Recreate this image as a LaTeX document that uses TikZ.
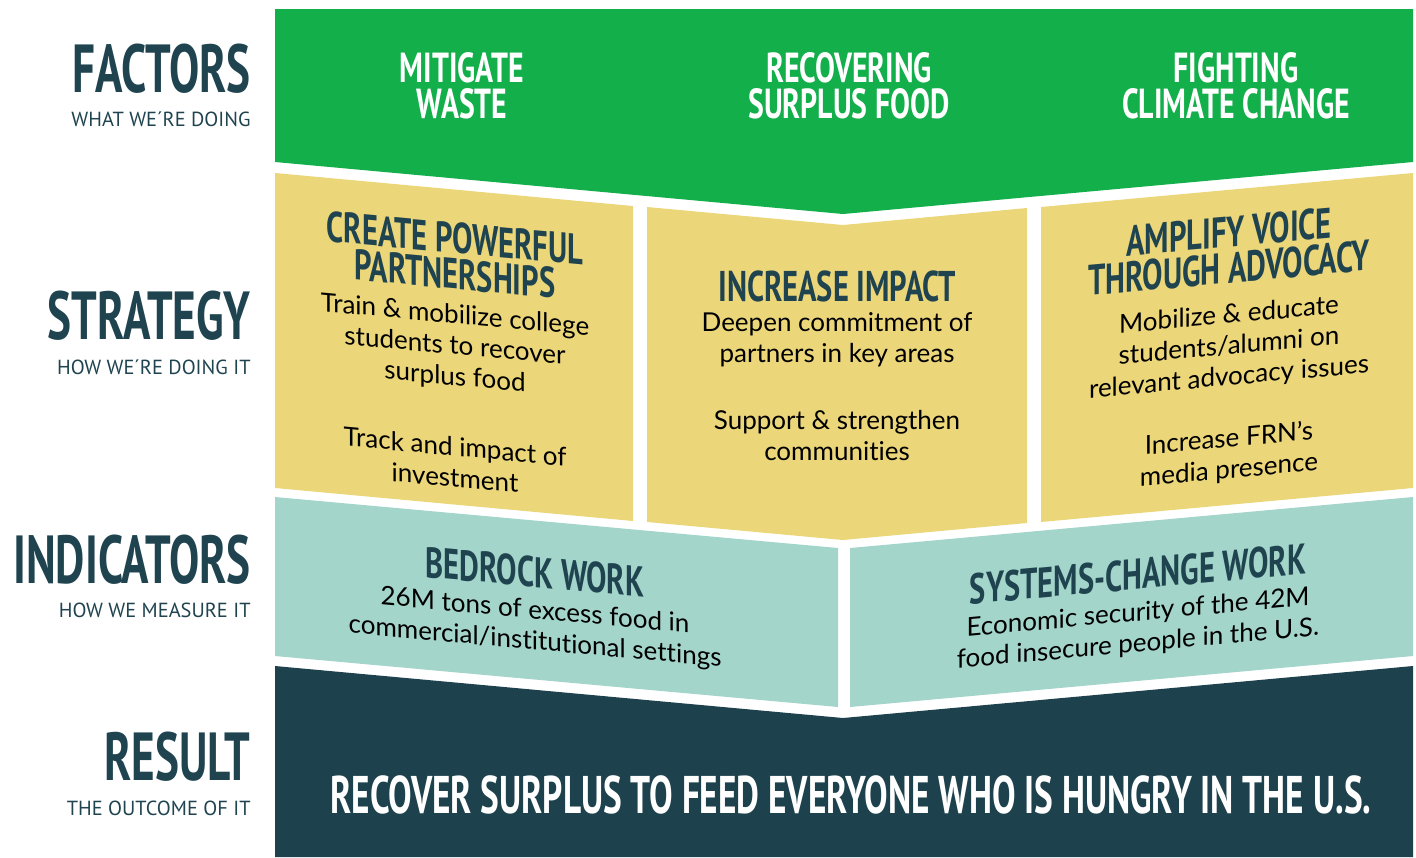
\documentclass[tikz,border=0pt]{standalone}
\usepackage{fontspec}
\setmainfont{Lato}[Ligatures=NoCommon]
\newfontfamily\dinfont[FakeStretch=0.71]{PT Sans}
\newfontfamily\dinnarrow[FakeStretch=0.665]{PT Sans}
\newfontfamily\dinsub{PT Sans}

\definecolor{frngreen}{HTML}{13AF4B}
\definecolor{frnyellow}{HTML}{ECD67A}
\definecolor{frnteal}{HTML}{A3D5CA}
\definecolor{frndark}{HTML}{1E424D}
\definecolor{frntext}{HTML}{1F4450}

\tikzset{
  rowtitle/.style={anchor=east, text=frntext, font=\dinnarrow\bfseries\fontsize{34}{34}\selectfont, inner sep=0pt},
  rowsub/.style={anchor=east, text=frntext, font=\dinsub\fontsize{10.2}{10.2}\selectfont, inner sep=0pt},
  bandtitle/.style={align=center, text=white, font=\dinfont\bfseries\fontsize{21}{18}\selectfont},
  boxtitle/.style={align=center, inner sep=0pt, text=frntext, font=\dinfont\bfseries\fontsize{21.5}{18}\selectfont},
  boxtext/.style={align=center, inner sep=0pt, text=black, font=\fontsize{13}{15.5}\selectfont},
  downslant/.style={yslant=-0.0915},
  upslant/.style={yslant=0.0915}
}

\begin{document}
\begin{tikzpicture}[x=0.5pt, y=-0.5pt]  % one unit = one pixel of the sketch
    \useasboundingbox (0,0) rectangle (1416,857);

    % factors band
    \fill[frngreen] (275,9) -- (1413,9) -- (1413,162) -- (843,214) -- (275,162) -- cycle;

    % strategy boxes
    \fill[frnyellow] (275,173) -- (633,206) -- (633,521) -- (275,488) -- cycle; % left
    \fill[frnyellow] (647,207) -- (843,225) -- (1027,208) -- (1027,523) -- (843,540) -- (647,522) -- cycle; % middle
    \fill[frnyellow] (1041,207) -- (1413,173) -- (1413,488) -- (1041,522) -- cycle; % right

    % indicator boxes
    \fill[frnteal] (275,497) -- (838,548) -- (838,707) -- (275,656) -- cycle; % left
    \fill[frnteal] (850,548) -- (1413,497) -- (1413,656) -- (850,707) -- cycle; % right

    % result band
    \fill[frndark] (275,666) -- (843,718) -- (1413,666) -- (1413,857) -- (275,857) -- cycle;

    % row labels
    \node[rowtitle] (factors) at (251,69) {FACTORS};
    \node[rowsub] (factorssub) at (251,119) {WHAT WE´RE DOING};
    \node[rowtitle] (strategy) at (251,316) {STRATEGY};
    \node[rowsub] (strategysub) at (251,367) {HOW WE´RE DOING IT};
    \node[rowtitle] (indicators) at (251,560) {INDICATORS};
    \node[rowsub] (indicatorssub) at (251,610) {HOW WE MEASURE IT};
    \node[rowtitle] (result) at (251,757) {RESULT};
    \node[rowsub] (resultsub) at (251,808) {THE OUTCOME OF IT};

    % factors
    \node[bandtitle] (waste) at (462,86) {MITIGATE\\WASTE};
    \node[bandtitle] (surplus) at (849,86) {RECOVERING\\SURPLUS FOOD};
    \node[bandtitle] (climate) at (1236,86) {FIGHTING\\CLIMATE CHANGE};

    % strategy
    \node[boxtitle, downslant] (partner) at (455,256) {CREATE POWERFUL\\PARTNERSHIPS};
    \node[boxtext, downslant] (partnera) at (455,347) {Train \& mobilize college\\students to recover\\surplus food};
    \node[boxtext, downslant] (partnerb) at (455,462) {Track and impact of\\investment};
    \node[boxtitle] (impact) at (837,286) {INCREASE IMPACT};
    \node[boxtext] (impacta) at (837,340) {Deepen commitment of\\partners in key areas};
    \node[boxtext] (impactb) at (837,436) {Support \& strengthen\\communities};
    \node[boxtitle, upslant] (voice) at (1229,250) {AMPLIFY VOICE\\THROUGH ADVOCACY};
    \node[boxtext, upslant] (voicea) at (1229,347) {Mobilize \& educate\\students/alumni on\\relevant advocacy issues};
    \node[boxtext, upslant] (voiceb) at (1229,455) {Increase FRN’s\\media presence};

    % indicators
    \node[boxtitle, downslant] (bedrock) at (535,572) {BEDROCK WORK};
    \node[boxtext, downslant] (bedrocka) at (535,627) {26M tons of excess food in\\commercial/institutional settings};
    \node[boxtitle, upslant] (systems) at (1138,574) {SYSTEMS-CHANGE WORK};
    \node[boxtext, upslant] (systemsa) at (1138,629) {Economic security of the 42M\\food insecure people in the U.S.};

    % result
    \node[text=white, font=\dinnarrow\bfseries\fontsize{26.5}{26.5}\selectfont] (goal) at (851,795) {RECOVER SURPLUS TO FEED EVERYONE WHO IS HUNGRY IN THE U.S.};

\end{tikzpicture}
\end{document}
